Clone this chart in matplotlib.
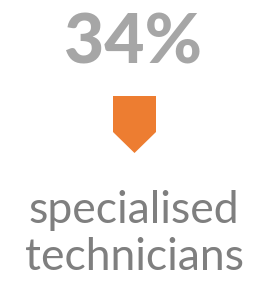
import matplotlib
matplotlib.use("Agg")
from matplotlib import pyplot as plt
from matplotlib.patches import Polygon

value = "34%"
label_lines = ["specialised", "technicians"]

W, H = 265, 285
fig = plt.figure(figsize=(W/100, H/100), dpi=100)
ax = fig.add_axes([0, 0, 1, 1])
ax.set_xlim(0, W)
ax.set_ylim(H, 0)
ax.axis("off")

# big percentage
ax.text(133, 63, value, ha="center", va="baseline", fontsize=50,
        fontweight="black", color="#A6A6A6", family="Lato")

# down arrow (pentagon)
arrow = Polygon([(113, 96), (156, 96), (156, 132), (134.5, 153), (113, 132)],
                closed=True, facecolor="#ED7D31", edgecolor="none")
ax.add_patch(arrow)

# label
for i, line in enumerate(label_lines):
    ax.text(134, 223 + i*47, line, ha="center", va="baseline", fontsize=32,
            color="#7F7F7F", family="Lato")

fig.savefig("out.png", dpi=100)
